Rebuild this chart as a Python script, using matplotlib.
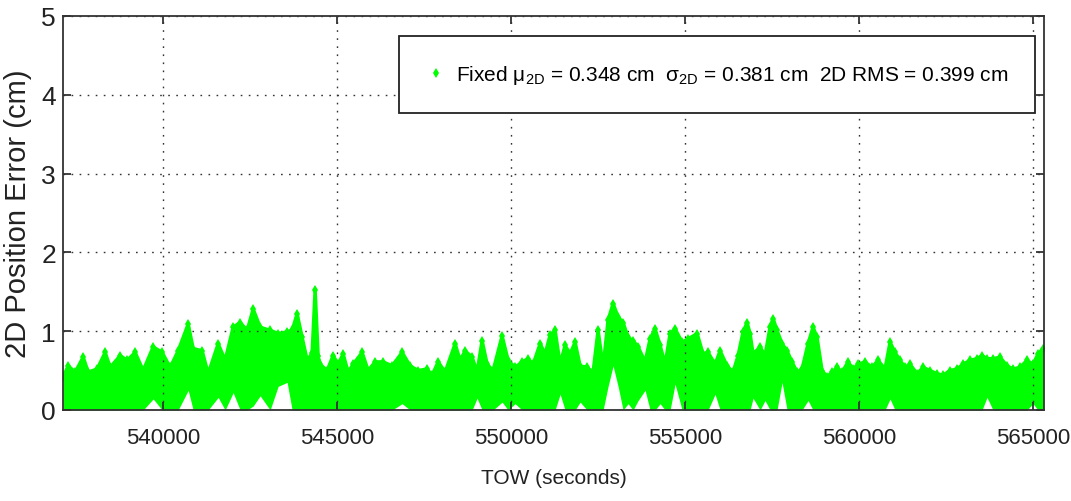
import numpy as np
import matplotlib
matplotlib.use("Agg")
import matplotlib.pyplot as plt
from matplotlib.lines import Line2D

#%% Datos (envolvente superior / inferior del error 2D)

tow = [537126, 537270, 537471, 537701, 537845, 538103, 538333, 538477, 538764, 538965,
       539195, 539425, 539713, 539971, 540201, 540431, 540719, 540862, 541121, 541293,
       541581, 541782, 542012, 542213, 542414, 542587, 542788, 543075, 543305, 543564,
       543707, 543851, 543995, 544139, 544282, 544368, 544455, 544512, 544713, 544886,
       545030, 545173, 545317, 545461, 545719, 545892, 546093, 546323, 546581, 546869,
       547099, 547329, 547587, 547731, 547904, 548105, 548392, 548536, 548680, 548881,
       549024, 549168, 549312, 549484, 549743, 549915, 550116, 550317, 550490, 550634,
       550835, 550979, 551122, 551266, 551410, 551553, 551697, 551841, 551985, 552186,
       552358, 552502, 552646, 552789, 552933, 553077, 553220, 553364, 553508, 553652,
       553853, 553996, 554140, 554284, 554428, 554572, 554715, 554916, 555089, 555348,
       555520, 555664, 555865, 556008, 556210, 556382, 556526, 556669, 556784, 556870,
       556957, 557158, 557301, 557445, 557531, 557646, 557790, 557934, 558077, 558221,
       558365, 558537, 558681, 558796, 558940, 559084, 559227, 559371, 559515, 559687,
       559831, 559974, 560175, 560377, 560549, 560750, 560894, 561038, 561181, 561325,
       561469, 561670, 561842, 562043, 562245, 562417, 562618, 562819, 562992, 563193,
       563394, 563538, 563682, 563854, 564055, 564256, 564429, 564630, 564831, 565003,
       565147, 565291]

err_top = [0.42, 0.56, 0.48, 0.67, 0.48, 0.52, 0.73, 0.54, 0.69, 0.63,
           0.73, 0.50, 0.80, 0.73, 0.54, 0.75, 1.09, 0.78, 0.75, 0.46,
           0.84, 0.63, 1.05, 1.11, 1.01, 1.28, 1.05, 1.01, 0.97, 0.99,
           1.01, 1.22, 0.92, 0.63, 0.72, 1.52, 0.68, 0.58, 0.50, 0.69,
           0.58, 0.71, 0.48, 0.58, 0.73, 0.50, 0.61, 0.61, 0.56, 0.73,
           0.56, 0.50, 0.52, 0.44, 0.61, 0.48, 0.84, 0.63, 0.75, 0.67,
           0.48, 0.88, 0.58, 0.50, 0.94, 0.63, 0.54, 0.61, 0.65, 0.58,
           0.84, 0.71, 0.95, 1.01, 0.58, 0.82, 0.71, 0.86, 0.56, 0.54,
           0.48, 1.01, 0.54, 1.14, 1.35, 1.18, 1.11, 0.92, 0.88, 0.80,
           0.61, 0.90, 1.03, 0.82, 0.58, 0.97, 1.03, 0.86, 0.90, 0.97,
           0.71, 0.73, 0.58, 0.75, 0.56, 0.48, 0.69, 0.99, 1.11, 0.97,
           0.71, 0.80, 0.69, 1.05, 1.16, 1.01, 0.84, 0.75, 0.61, 0.48,
           0.52, 0.84, 1.05, 0.92, 0.50, 0.42, 0.48, 0.54, 0.48, 0.61,
           0.52, 0.58, 0.61, 0.54, 0.63, 0.52, 0.86, 0.73, 0.63, 0.54,
           0.58, 0.46, 0.54, 0.50, 0.46, 0.44, 0.50, 0.52, 0.58, 0.63,
           0.65, 0.69, 0.65, 0.65, 0.67, 0.56, 0.52, 0.54, 0.63, 0.58,
           0.71, 0.78]

err_low = [0.00, 0.00, 0.00, 0.00, 0.00, 0.00, 0.00, 0.00, 0.00, 0.00,
           0.00, 0.00, 0.14, 0.00, 0.00, 0.00, 0.25, 0.00, 0.00, 0.00,
           0.16, 0.00, 0.22, 0.00, 0.00, 0.05, 0.18, 0.00, 0.30, 0.35,
           0.00, 0.00, 0.00, 0.00, 0.00, 0.00, 0.00, 0.00, 0.00, 0.00,
           0.00, 0.00, 0.00, 0.00, 0.00, 0.00, 0.00, 0.00, 0.00, 0.08,
           0.00, 0.00, 0.00, 0.00, 0.00, 0.00, 0.00, 0.00, 0.00, 0.00,
           0.15, 0.00, 0.00, 0.00, 0.10, 0.00, 0.08, 0.00, 0.00, 0.00,
           0.00, 0.00, 0.00, 0.00, 0.20, 0.00, 0.00, 0.00, 0.10, 0.00,
           0.00, 0.00, 0.00, 0.30, 0.56, 0.30, 0.00, 0.08, 0.00, 0.12,
           0.25, 0.00, 0.00, 0.08, 0.00, 0.00, 0.33, 0.00, 0.00, 0.00,
           0.00, 0.00, 0.20, 0.00, 0.00, 0.00, 0.00, 0.00, 0.00, 0.00,
           0.15, 0.00, 0.12, 0.00, 0.00, 0.00, 0.35, 0.00, 0.00, 0.00,
           0.00, 0.12, 0.00, 0.00, 0.00, 0.00, 0.00, 0.00, 0.00, 0.00,
           0.00, 0.00, 0.00, 0.00, 0.00, 0.00, 0.14, 0.00, 0.00, 0.00,
           0.00, 0.00, 0.00, 0.00, 0.00, 0.00, 0.00, 0.00, 0.00, 0.00,
           0.00, 0.00, 0.16, 0.00, 0.00, 0.00, 0.00, 0.00, 0.00, 0.08,
           0.00, 0.00]

xticks = [540000, 545000, 550000, 555000, 560000, 565000]
yticks = [0, 1, 2, 3, 4, 5]
etiqueta = (r"Fixed μ$_{\mathrm{2D}}$ = 0.348 cm  σ$_{\mathrm{2D}}$ = 0.381 cm"
            r"  2D RMS = 0.399 cm")

#%% Estilo

plt.rcParams["font.family"] = ["Liberation Sans", "DejaVu Sans"]
plt.rcParams["mathtext.fontset"] = "custom"
plt.rcParams["mathtext.rm"] = "Liberation Sans"
plt.rcParams["mathtext.it"] = "Liberation Sans"
plt.rcParams["mathtext.sf"] = "Liberation Sans"

verde = "#00ff00"
gris = "#333333"

#%% Gráfico

fig = plt.figure(figsize=(10.71, 5.02), dpi=100)
ax = fig.add_axes([0.0588, 0.1813, 0.916, 0.785])

x = np.array(tow)
ax.fill_between(x, err_low, err_top, color=verde, linewidth=0, zorder=2)
ax.plot(x, err_top, color=verde, linewidth=2.5, marker="d", markersize=5,
        markeredgewidth=0, zorder=3)

ax.set_xlim(537120, 565320)
ax.set_ylim(0, 5)
ax.set_xticks(xticks)
ax.set_yticks(yticks)
ax.set_xticklabels([str(t) for t in xticks])

ax.grid(True, color=gris, linestyle=(0, (1.2, 4.6)), linewidth=1.0)
ax.set_axisbelow(False)
for sp in ax.spines.values():
    sp.set_linewidth(1.3)
    sp.set_color(gris)
    sp.set_zorder(5)

ax.tick_params(axis="both", direction="in", length=6, width=1.3,
               top=True, right=True, color=gris)
ax.tick_params(axis="x", labelsize=16, pad=12, labelcolor="#222222")
ax.tick_params(axis="y", labelsize=19, pad=5, labelcolor="#222222")

ax.set_xlabel("TOW (seconds)", fontsize=15, color="#222222", labelpad=15)
ax.set_ylabel("2D Position Error (cm)", fontsize=21, color="#222222",
              labelpad=7)

marca = Line2D([], [], color=verde, linestyle="none", marker="d",
               markersize=5, markeredgewidth=0)
leg = ax.legend([marca], [etiqueta], loc="upper right",
                bbox_to_anchor=(0.9908, 0.949), borderaxespad=0,
                fontsize=15, frameon=True, fancybox=False,
                borderpad=1.3, handlelength=0.9, handletextpad=0.5)
leg.get_frame().set_edgecolor("#222222")
leg.get_frame().set_linewidth(1.3)
leg.get_frame().set_alpha(1)

plt.savefig("out.png", dpi=100)
